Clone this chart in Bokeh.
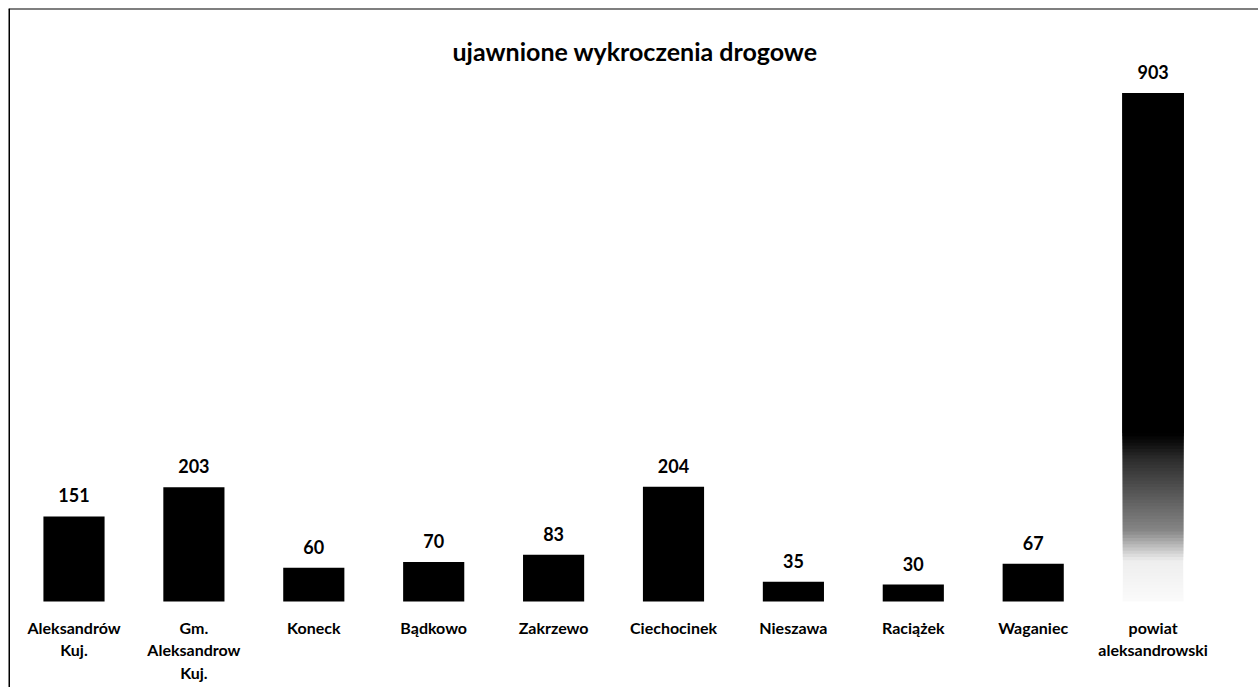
import numpy as np
from bokeh.plotting import figure
from bokeh.models import ColumnDataSource, Range1d, Label, Span
from bokeh.core.properties import value
from bokeh.embed import file_html
from bokeh.resources import INLINE

# ---- data ----
title_text = "ujawnione wykroczenia drogowe"
categories = ["Aleksandrów Kuj.", "Gm. Aleksandrow Kuj.", "Koneck", "Bądkowo",
              "Zakrzewo", "Ciechocinek", "Nieszawa", "Raciążek", "Waganiec",
              "powiat aleksandrowski"]
category_labels = ["Aleksandrów\nKuj.", "Gm.\nAleksandrow\nKuj.", "Koneck", "Bądkowo",
                   "Zakrzewo", "Ciechocinek", "Nieszawa", "Raciążek", "Waganiec",
                   "powiat\naleksandrowski"]
values = [151, 203, 60, 70, 83, 204, 35, 30, 67, 903]

W, H = 1258, 687
ML, MT = 8, 8
FW, FH = W - ML, H - MT
FONT = value("Lato")

x = list(range(len(values)))
px_per_cat = 119.9
x_start = -65.5 / px_per_cat
x_end = x_start + FW / px_per_cat
upp = 1 / 0.563
y_start = -(H - 601) * upp
y_end = y_start + FH * upp

p = figure(width=W, height=H, output_backend="svg", toolbar_location=None,
           x_range=Range1d(x_start, x_end), y_range=Range1d(y_start, y_end),
           min_border_left=ML, min_border_right=0,
           min_border_top=MT, min_border_bottom=0)
p.xaxis.visible = False
p.yaxis.visible = False
p.xgrid.visible = False
p.ygrid.visible = False
p.outline_line_color = None
p.background_fill_color = "white"
p.border_fill_color = "white"

# solid bars (all but the total)
solid = ColumnDataSource(dict(x=x[:-1], top=values[:-1]))
p.vbar(x="x", top="top", bottom=0, width=0.51, source=solid,
       fill_color="black", line_color=None)

# total bar: black fading to white toward the bottom (overlapping layers, no seams)
n = 160
tot = values[-1]
edges = np.linspace(0, tot, n + 1)[:-1]
frac = (edges + tot / n / 2) / tot
target = np.interp(frac, [0, 0.08, 0.10, 0.14, 0.28, 0.33, 1.0],
                   [0.02, 0.05, 0.18, 0.45, 0.8, 0.999, 0.999])
prev = np.concatenate([[0.0], target[:-1]])
layer_alpha = 1 - (1 - target) / (1 - prev)
grad = ColumnDataSource(dict(x=[x[-1]] * n, bottom=edges, top=[tot] * n, a=layer_alpha))
p.vbar(x="x", top="top", bottom="bottom", width=0.51, source=grad,
       fill_color="black", fill_alpha="a", line_color=None)

# value labels
lab = ColumnDataSource(dict(x=x, y=values, t=[str(v) for v in values]))
p.text(x="x", y="y", text="t", source=lab, text_align="center",
       text_baseline="middle", y_offset=-21, text_font=FONT,
       text_font_style="bold", text_font_size="18px", text_color="black")

# category labels
cat = ColumnDataSource(dict(x=x, y=[0] * len(x), t=category_labels))
p.text(x="x", y="y", text="t", source=cat, text_align="center",
       text_baseline="top", y_offset=16, text_font=FONT,
       text_font_style="bold", text_font_size="16px", text_color="black",
       text_line_height=1.21)

# title
p.add_layout(Label(x=x_start + (634.5 - ML) / px_per_cat, y=y_end - (50 - MT) * upp,
                   text=title_text, text_align="center", text_baseline="middle",
                   text_font="Lato", text_font_style="bold",
                   text_font_size="25px", text_color="black"))

# border (left and top visible in the scan)
p.add_layout(Span(location=x_start, dimension="height", line_color="black", line_width=3))
p.add_layout(Span(location=y_end, dimension="width", line_color="black", line_width=2))

open("out.html", "w").write(file_html(p, INLINE))
